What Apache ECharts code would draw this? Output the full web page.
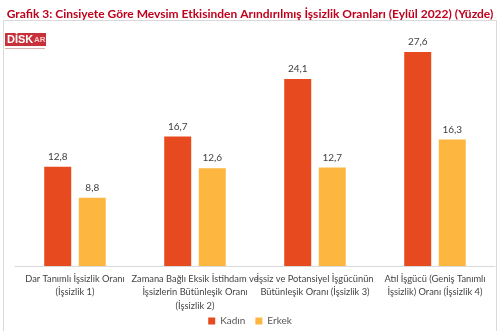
<!DOCTYPE html>
<html><head><meta charset="utf-8">
<script src="https://cdn.jsdelivr.net/npm/echarts@6/dist/echarts.min.js"></script>
<style>html,body{margin:0;padding:0;background:#fff}#c{width:500px;height:331px}</style>
</head><body><div id="c"></div>
<script>
var categories = ['Dar Tanımlı İşsizlik Oranı\n(İşsizlik 1)', 'Zamana Bağlı Eksik İstihdam ve\nİşsizlerin Bütünleşik Oranı\n(İşsizlik 2)', 'İşsiz ve Potansiyel İşgücünün\nBütünleşik Oranı (İşsizlik 3)', 'Atıl İşgücü (Geniş Tanımlı\nİşsizlik) Oranı (İşsizlik 4)'];
var kadin = [12.8, 16.7, 24.1, 27.6];
var erkek = [8.8, 12.6, 12.7, 16.3];
var chart = echarts.init(document.getElementById('c'));
var fmt = function(p){ return String(p.value).replace('.', ','); };
chart.setOption({
  animation: false,
  title: { text: 'Grafik 3: Cinsiyete Göre Mevsim Etkisinden Arındırılmış İşsizlik Oranları (Eylül 2022) (Yüzde)', left: 'center', top: 3,
    textStyle: { color: '#C0001C', fontSize: 12, fontWeight: 'bold', fontFamily: 'Lato' } },
  graphic: [
    { type: 'rect', shape: { x: 3.5, y: 20.5, width: 493, height: 320 }, style: { fill: 'none', stroke: '#d9d9d9', lineWidth: 1 } },
    { type: 'rect', shape: { x: 5, y: 33, width: 41, height: 13 }, style: { fill: '#C8313A' } },
    { type: 'text', x: 7, y: 34, style: { text: 'DİSK', fill: '#fff', font: 'bold 11px "Liberation Sans"' } },
    { type: 'text', x: 34, y: 36, style: { text: 'AR', fill: '#f2c9c9', font: 'bold 8px "Liberation Sans"' } },
    { type: 'rect', shape: { x: 5, y: 48, width: 40, height: 1 }, style: { fill: '#d8b0b0' } }
  ],
  legend: { bottom: 0, left: 'center', itemWidth: 7, itemHeight: 7, itemGap: 10, icon: 'rect',
    textStyle: { color: '#555', fontSize: 10, fontFamily: 'Lato' }, data: ['Kadın', 'Erkek'] },
  grid: { left: 15, right: 5, top: 33.3, bottom: 65 },
  xAxis: { type: 'category', data: categories,
    axisLine: { lineStyle: { color: '#d9d9d9' } }, axisTick: { show: false },
    axisLabel: { interval: 0, color: '#444', fontSize: 9.3, lineHeight: 13.5, margin: 6, fontFamily: 'Lato' } },
  yAxis: { type: 'value', min: 0, max: 30, show: false, splitLine: { show: false } },
  series: [
    { name: 'Kadın', type: 'bar', data: kadin, barWidth: 27, barGap: '28%',
      itemStyle: { color: '#E84A1F' },
      label: { show: true, position: 'top', distance: 5, color: '#404040', fontSize: 10, fontFamily: 'Lato', formatter: fmt } },
    { name: 'Erkek', type: 'bar', data: erkek, barWidth: 27,
      itemStyle: { color: '#FDB740' },
      label: { show: true, position: 'top', distance: 5, color: '#404040', fontSize: 10, fontFamily: 'Lato', formatter: fmt } }
  ]
});
</script></body></html>
